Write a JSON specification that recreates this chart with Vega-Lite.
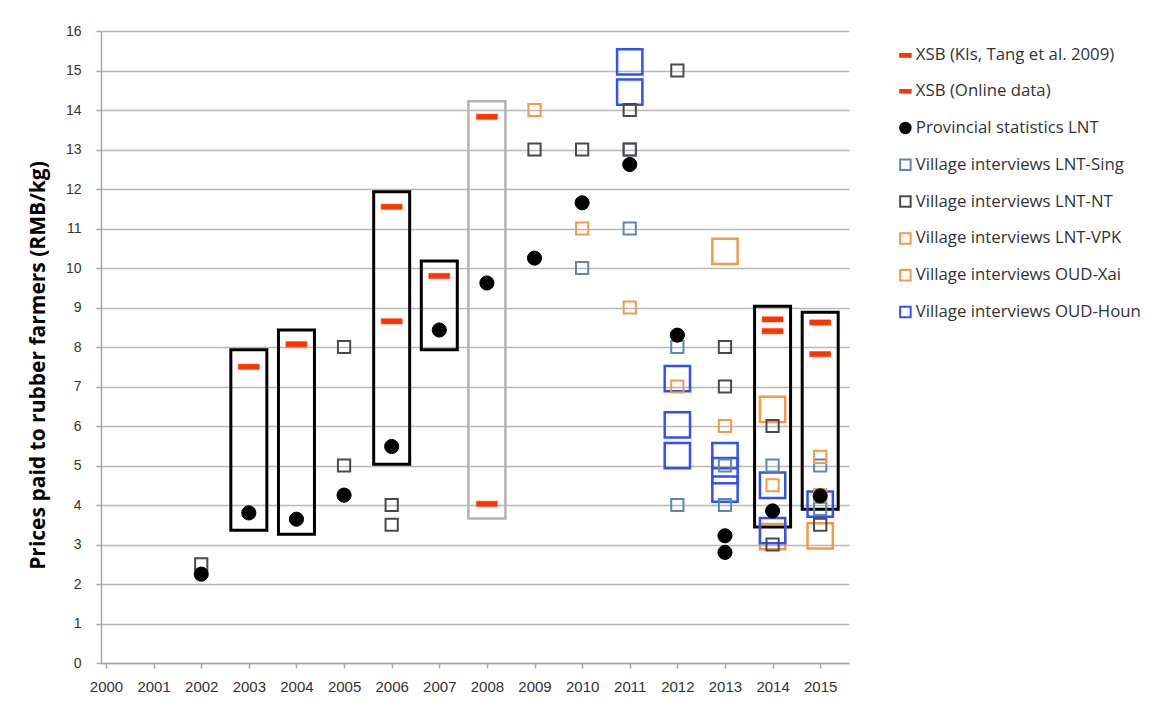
{
  "$schema": "https://vega.github.io/schema/vega-lite/v6.json",
  "width": 748,
  "height": 632,
  "autosize": {"type": "none"},
  "padding": {"left": 101, "top": 31, "right": 318, "bottom": 41},
  "background": "white",
  "config": {
    "view": {"stroke": null},
    "font": "Liberation Sans",
    "axis": {"labelFont": "Liberation Sans", "labelColor": "#333333", "labelFontSize": 14, "domainColor": "#a6a6a6", "tickColor": "#a6a6a6", "tickSize": 5, "domainWidth": 1.5, "tickWidth": 1.5}
  },
  "datasets": {
    "boxes": [
      {"year": 2003, "price": 3.36, "high": 7.93, "grp": "black"},
      {"year": 2004, "price": 3.26, "high": 8.43, "grp": "black"},
      {"year": 2006, "price": 5.03, "high": 11.93, "grp": "black"},
      {"year": 2007, "price": 7.93, "high": 10.18, "grp": "black"},
      {"year": 2008, "price": 3.66, "high": 14.22, "grp": "gray"},
      {"year": 2014, "price": 3.44, "high": 9.03, "grp": "black"},
      {"year": 2015, "price": 3.89, "high": 8.88, "grp": "black"}
    ],
    "points": [
      {"year": 2003, "price": 7.5, "series": "XSB (KIs, Tang et al. 2009)"},
      {"year": 2004, "price": 8.07, "series": "XSB (KIs, Tang et al. 2009)"},
      {"year": 2006, "price": 11.55, "series": "XSB (KIs, Tang et al. 2009)"},
      {"year": 2006, "price": 8.65, "series": "XSB (KIs, Tang et al. 2009)"},
      {"year": 2007, "price": 9.8, "series": "XSB (KIs, Tang et al. 2009)"},
      {"year": 2008, "price": 13.83, "series": "XSB (KIs, Tang et al. 2009)"},
      {"year": 2008, "price": 4.03, "series": "XSB (KIs, Tang et al. 2009)"},
      {"year": 2014, "price": 8.7, "series": "XSB (Online data)"},
      {"year": 2014, "price": 8.4, "series": "XSB (Online data)"},
      {"year": 2015, "price": 8.62, "series": "XSB (Online data)"},
      {"year": 2015, "price": 7.82, "series": "XSB (Online data)"},
      {"year": 2012, "price": 8.0, "series": "Village interviews LNT-Sing"},
      {"year": 2010, "price": 10, "series": "Village interviews LNT-Sing"},
      {"year": 2011, "price": 13, "series": "Village interviews LNT-Sing"},
      {"year": 2011, "price": 11, "series": "Village interviews LNT-Sing"},
      {"year": 2012, "price": 4, "series": "Village interviews LNT-Sing"},
      {"year": 2013, "price": 5, "series": "Village interviews LNT-Sing"},
      {"year": 2013, "price": 4, "series": "Village interviews LNT-Sing"},
      {"year": 2014, "price": 5, "series": "Village interviews LNT-Sing"},
      {"year": 2015, "price": 5, "series": "Village interviews LNT-Sing"},
      {"year": 2015, "price": 3.9, "series": "Village interviews LNT-Sing"},
      {"year": 2002, "price": 2.5, "series": "Village interviews LNT-NT"},
      {"year": 2005, "price": 8, "series": "Village interviews LNT-NT"},
      {"year": 2005, "price": 5, "series": "Village interviews LNT-NT"},
      {"year": 2006, "price": 4, "series": "Village interviews LNT-NT"},
      {"year": 2006, "price": 3.5, "series": "Village interviews LNT-NT"},
      {"year": 2009, "price": 13, "series": "Village interviews LNT-NT"},
      {"year": 2010, "price": 13, "series": "Village interviews LNT-NT"},
      {"year": 2011, "price": 14, "series": "Village interviews LNT-NT"},
      {"year": 2011, "price": 13, "series": "Village interviews LNT-NT"},
      {"year": 2012, "price": 15, "series": "Village interviews LNT-NT"},
      {"year": 2013, "price": 8, "series": "Village interviews LNT-NT"},
      {"year": 2013, "price": 7, "series": "Village interviews LNT-NT"},
      {"year": 2014, "price": 6, "series": "Village interviews LNT-NT"},
      {"year": 2014, "price": 3.0, "series": "Village interviews LNT-NT"},
      {"year": 2015, "price": 3.5, "series": "Village interviews LNT-NT"},
      {"year": 2009, "price": 14, "series": "Village interviews LNT-VPK"},
      {"year": 2010, "price": 11, "series": "Village interviews LNT-VPK"},
      {"year": 2011, "price": 9, "series": "Village interviews LNT-VPK"},
      {"year": 2012, "price": 7, "series": "Village interviews LNT-VPK"},
      {"year": 2013, "price": 6, "series": "Village interviews LNT-VPK"},
      {"year": 2014, "price": 4.5, "series": "Village interviews LNT-VPK"},
      {"year": 2015, "price": 5.22, "series": "Village interviews LNT-VPK"},
      {"year": 2015, "price": 4.25, "series": "Village interviews LNT-VPK"},
      {"year": 2013, "price": 10.42, "series": "Village interviews OUD-Xai"},
      {"year": 2014, "price": 6.42, "series": "Village interviews OUD-Xai"},
      {"year": 2014, "price": 3.2, "series": "Village interviews OUD-Xai"},
      {"year": 2015, "price": 3.22, "series": "Village interviews OUD-Xai"},
      {"year": 2011, "price": 15.22, "series": "Village interviews OUD-Houn"},
      {"year": 2011, "price": 14.45, "series": "Village interviews OUD-Houn"},
      {"year": 2012, "price": 7.2, "series": "Village interviews OUD-Houn"},
      {"year": 2012, "price": 6.03, "series": "Village interviews OUD-Houn"},
      {"year": 2012, "price": 5.25, "series": "Village interviews OUD-Houn"},
      {"year": 2013, "price": 5.25, "series": "Village interviews OUD-Houn"},
      {"year": 2013, "price": 4.87, "series": "Village interviews OUD-Houn"},
      {"year": 2013, "price": 4.4, "series": "Village interviews OUD-Houn"},
      {"year": 2014, "price": 4.5, "series": "Village interviews OUD-Houn"},
      {"year": 2014, "price": 3.35, "series": "Village interviews OUD-Houn"},
      {"year": 2015, "price": 4.02, "series": "Village interviews OUD-Houn"},
      {"year": 2002, "price": 2.25, "series": "Provincial statistics LNT"},
      {"year": 2003, "price": 3.8, "series": "Provincial statistics LNT"},
      {"year": 2004, "price": 3.64, "series": "Provincial statistics LNT"},
      {"year": 2005, "price": 4.25, "series": "Provincial statistics LNT"},
      {"year": 2006, "price": 5.48, "series": "Provincial statistics LNT"},
      {"year": 2007, "price": 8.43, "series": "Provincial statistics LNT"},
      {"year": 2008, "price": 9.62, "series": "Provincial statistics LNT"},
      {"year": 2009, "price": 10.25, "series": "Provincial statistics LNT"},
      {"year": 2010, "price": 11.65, "series": "Provincial statistics LNT"},
      {"year": 2011, "price": 12.62, "series": "Provincial statistics LNT"},
      {"year": 2012, "price": 8.3, "series": "Provincial statistics LNT"},
      {"year": 2013, "price": 3.22, "series": "Provincial statistics LNT"},
      {"year": 2013, "price": 2.8, "series": "Provincial statistics LNT"},
      {"year": 2014, "price": 3.85, "series": "Provincial statistics LNT"},
      {"year": 2015, "price": 4.23, "series": "Provincial statistics LNT"}
    ]
  },
  "encoding": {
    "x": {
      "field": "year", "type": "quantitative",
      "scale": {"domain": [2000, 2015.5], "nice": false, "zero": false},
      "axis": {"title": null, "values": [2000, 2001, 2002, 2003, 2004, 2005, 2006, 2007, 2008, 2009, 2010, 2011, 2012, 2013, 2014, 2015], "format": "d", "grid": false, "labelPadding": 11, "labelFontSize": 15, "labelFlush": false, "labelOverlap": false}
    },
    "y": {
      "field": "price", "type": "quantitative",
      "scale": {"domain": [0, 16], "nice": false},
      "axis": {"title": "Prices paid to rubber farmers (RMB/kg)", "titleFont": "Open Sans", "titleFontSize": 21, "titleFontWeight": "bold", "titleColor": "#000000", "titleX": -63, "titleY": 334, "titleBaseline": "middle", "titleAlign": "center", "titleAngle": -90, "values": [0, 1, 2, 3, 4, 5, 6, 7, 8, 9, 10, 11, 12, 13, 14, 15, 16], "grid": true, "gridColor": "#b8b8b8", "gridWidth": 1.5, "labelPadding": 15, "labelOverlap": false}
    }
  },
  "layer": [
    {
      "data": {"name": "boxes"},
      "transform": [{"filter": "datum.grp == 'gray'"}],
      "mark": {"type": "bar", "size": 37, "fill": "transparent", "stroke": "#b4b4b4", "strokeWidth": 2.5},
      "encoding": {"y2": {"field": "high"}}
    },
    {
      "data": {"name": "boxes"},
      "transform": [{"filter": "datum.grp == 'black'"}],
      "mark": {"type": "bar", "size": 36, "fill": "transparent", "stroke": "#000000", "strokeWidth": 3},
      "encoding": {"y2": {"field": "high"}}
    },
    {
      "data": {"name": "points"},
      "encoding": {
        "shape": {"field": "series", "type": "nominal",
          "scale": {"domain": ["XSB (KIs, Tang et al. 2009)", "XSB (Online data)", "Provincial statistics LNT", "Village interviews LNT-Sing", "Village interviews LNT-NT", "Village interviews LNT-VPK", "Village interviews OUD-Xai", "Village interviews OUD-Houn"],
            "range": ["M-1,-0.25H1V0.25H-1Z", "M-1,-0.25H1V0.25H-1Z", "circle", "square", "square", "square", "square", "square"]},
          "legend": {"title": null, "orient": "none", "legendX": 796, "legendY": 16, "labelFont": "Open Sans", "labelFontSize": 16.8, "labelColor": "#333333", "labelLimit": 400, "rowPadding": 17.8, "symbolSize": 110, "symbolStrokeWidth": 2, "labelOffset": 2, "padding": 0}},
        "fill": {"field": "series", "type": "nominal",
          "scale": {"domain": ["XSB (KIs, Tang et al. 2009)", "XSB (Online data)", "Provincial statistics LNT", "Village interviews LNT-Sing", "Village interviews LNT-NT", "Village interviews LNT-VPK", "Village interviews OUD-Xai", "Village interviews OUD-Houn"],
            "range": ["#ff3300", "#ff3300", "#000000", "transparent", "transparent", "transparent", "transparent", "transparent"]}},
        "stroke": {"field": "series", "type": "nominal",
          "scale": {"domain": ["XSB (KIs, Tang et al. 2009)", "XSB (Online data)", "Provincial statistics LNT", "Village interviews LNT-Sing", "Village interviews LNT-NT", "Village interviews LNT-VPK", "Village interviews OUD-Xai", "Village interviews OUD-Houn"],
            "range": ["#ff3300", "#ff3300", "#000000", "#5b87b8", "#4a4a4a", "#f39a4a", "#f39a4a", "#3450f5"]}}
      },
      "layer": [
        {
          "transform": [{"filter": "datum.series == 'Village interviews OUD-Xai' || datum.series == 'Village interviews OUD-Houn'"}],
          "mark": {"type": "point", "size": 640, "strokeWidth": 2.5, "opacity": 1}
        },
        {
          "transform": [{"filter": "datum.series == 'Village interviews LNT-Sing' || datum.series == 'Village interviews LNT-NT' || datum.series == 'Village interviews LNT-VPK'"}],
          "mark": {"type": "point", "size": 150, "strokeWidth": 2, "opacity": 1}
        },
        {
          "transform": [{"filter": "datum.series == 'Provincial statistics LNT'"}],
          "mark": {"type": "point", "size": 200, "strokeWidth": 1, "opacity": 1}
        },
        {
          "transform": [{"filter": "datum.series == 'XSB (KIs, Tang et al. 2009)' || datum.series == 'XSB (Online data)'"}],
          "mark": {"type": "point", "size": 440, "strokeWidth": 0.5, "opacity": 1}
        }
      ]
    }
  ]
}
